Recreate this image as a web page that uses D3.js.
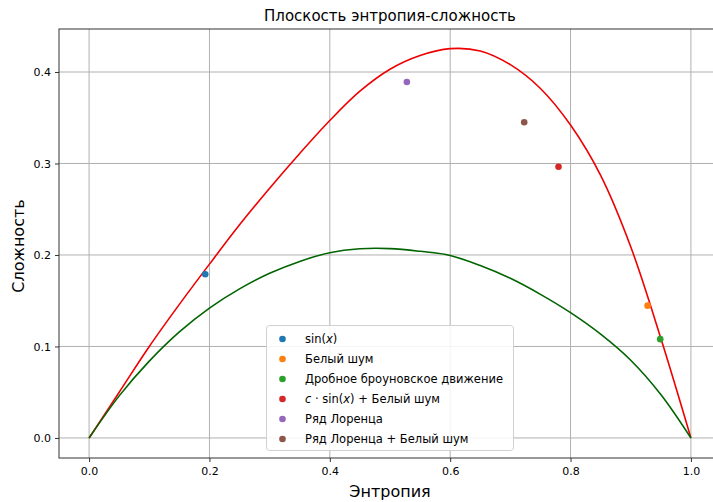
<!DOCTYPE html>
<html lang="ru">
<head>
<meta charset="utf-8">
<script src="https://d3js.org/d3.v7.min.js"></script>
<style>
  body { margin: 0; background: #fff; }
  svg text { font-family: "DejaVu Sans", sans-serif; fill: #000; }
</style>
</head>
<body>
<svg id="chart" width="713" height="502"></svg>
<script>
// boundary curves: entropy grid and complexity values
var curveH = [0, 0.05, 0.10, 0.15, 0.20, 0.25, 0.30, 0.35, 0.40, 0.45, 0.50,
              0.55, 0.60, 0.65, 0.70, 0.75, 0.80, 0.85, 0.90, 0.95, 1.0]
var maxC = [0, 0.050, 0.100, 0.146, 0.190, 0.233, 0.273, 0.311, 0.347, 0.379, 0.403,
            0.418, 0.4255, 0.423, 0.408, 0.382, 0.342, 0.287, 0.209, 0.109, 0]
var minC = [0, 0.046, 0.084, 0.116, 0.142, 0.163, 0.180, 0.193, 0.2025, 0.2068, 0.2070,
            0.2040, 0.1995, 0.1885, 0.1745, 0.157, 0.137, 0.1135, 0.085, 0.0475, 0]

var seriesNames = ["sin(x)", "Белый шум", "Дробное броуновское движение",
                   "c·sin(x) + Белый шум", "Ряд Лоренца", "Ряд Лоренца + Белый шум"]
var entropy    = [0.193, 0.928, 0.949, 0.780, 0.528, 0.723]
var complexity = [0.179, 0.1446, 0.108, 0.2965, 0.389, 0.345]
var colors = ["#1f77b4", "#ff7f0e", "#2ca02c", "#d62728", "#9467bd", "#8c564b"]

var xTicks = [0, 0.2, 0.4, 0.6, 0.8, 1.0]
var yTicks = [0, 0.1, 0.2, 0.3, 0.4]

var padL = 59, padT = 29, padB = 458, padR = 721

var svg = d3.select("#chart")

var x = d3.scaleLinear().domain([-0.05, 1.05]).range([padL, padR])
var y = d3.scaleLinear().domain([-0.0219, 0.447]).range([padB, padT])

// grid
svg.append("g").selectAll("line").data(xTicks).enter().append("line")
  .attr("x1", d => x(d)).attr("x2", d => x(d)).attr("y1", padT).attr("y2", padB)
  .attr("stroke", "#b0b0b0").attr("stroke-width", 1)
svg.append("g").selectAll("line").data(yTicks).enter().append("line")
  .attr("x1", padL).attr("x2", padR).attr("y1", d => y(d)).attr("y2", d => y(d))
  .attr("stroke", "#b0b0b0").attr("stroke-width", 1)

// curves
var line = d3.line().x((d, i) => x(curveH[i])).y(d => y(d)).curve(d3.curveCatmullRom.alpha(0.5))
svg.append("path").attr("d", line(maxC)).attr("fill", "none")
  .attr("stroke", "#ee0000").attr("stroke-width", 1.6)
svg.append("path").attr("d", line(minC)).attr("fill", "none")
  .attr("stroke", "#006400").attr("stroke-width", 1.6)

// points
svg.append("g").selectAll("circle").data(seriesNames).enter().append("circle")
  .attr("cx", (d, i) => x(entropy[i])).attr("cy", (d, i) => y(complexity[i]))
  .attr("r", 3.3).attr("fill", (d, i) => colors[i])

// axes
var xAxis = d3.axisBottom(x).tickValues(xTicks).tickFormat(d3.format(".1f")).tickSize(4).tickPadding(5)
var yAxis = d3.axisLeft(y).tickValues(yTicks).tickFormat(d3.format(".1f")).tickSize(4).tickPadding(4)
var gx = svg.append("g").attr("transform", "translate(0," + padB + ")").call(xAxis)
var gy = svg.append("g").attr("transform", "translate(" + padL + ",0)").call(yAxis)
gx.select(".domain").remove()
gy.select(".domain").remove()
svg.selectAll(".tick text").attr("font-size", 11).attr("font-family", "DejaVu Sans").attr("fill", "#000")
svg.selectAll(".tick line").attr("stroke", "#333")

// spines
svg.append("rect").attr("x", padL).attr("y", padT).attr("width", padR - padL).attr("height", padB - padT)
  .attr("fill", "none").attr("stroke", "#333").attr("stroke-width", 1)

// legend
var lg = svg.append("g")
lg.append("rect").attr("x", 266.5).attr("y", 325.5).attr("width", 247).attr("height", 125).attr("rx", 3)
  .attr("fill", "#fff").attr("fill-opacity", 0.85).attr("stroke", "#d0d0d0")
var row = lg.selectAll("g.row").data(seriesNames).enter().append("g").attr("class", "row")
  .attr("transform", (d, i) => "translate(0," + (339 + i * 20) + ")")
row.append("circle").attr("cx", 282.5).attr("cy", 0).attr("r", 3.3).attr("fill", (d, i) => colors[i])
row.append("text").attr("x", 305).attr("y", 4).attr("font-size", 11.5).each(function (d) {
  var t = d3.select(this)
  var m = /^(c·)?sin\(x\)(.*)$/.exec(d)
  if (m) {
    if (m[1]) t.append("tspan").attr("font-style", "italic").text("c")
    if (m[1]) t.append("tspan").text(" · ")
    t.append("tspan").text("sin(")
    t.append("tspan").attr("font-style", "italic").text("x")
    t.append("tspan").text(")" + m[2])
  } else {
    t.text(d)
  }
})

// titles
svg.append("text").attr("x", 390).attr("y", 21).attr("text-anchor", "middle")
  .attr("font-size", 15).text("Плоскость энтропия-сложность")
svg.append("text").attr("x", 390).attr("y", 497).attr("text-anchor", "middle")
  .attr("font-size", 16).text("Энтропия")
svg.append("text").attr("transform", "translate(24,246) rotate(-90)").attr("text-anchor", "middle")
  .attr("font-size", 16).text("Сложность")
</script>
</body>
</html>
